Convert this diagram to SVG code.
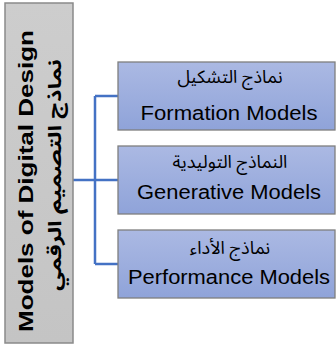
<svg xmlns="http://www.w3.org/2000/svg" width="336" height="346" viewBox="0 0 336 346">
<defs>
<linearGradient id="bg" x1="0" y1="0" x2="0" y2="1">
<stop offset="0" stop-color="#abb9e3"/>
<stop offset="1" stop-color="#8fa3d9"/>
</linearGradient>
<linearGradient id="gg" x1="0" y1="0" x2="0" y2="1">
<stop offset="0" stop-color="#cdcdcd"/>
<stop offset="1" stop-color="#c4c4c4"/>
</linearGradient>
</defs>
<style>
.box{fill:url(#bg);stroke:#7f7f7f;stroke-width:1.3}
.root{fill:url(#gg);stroke:#8a8a8a;stroke-width:1.5}
.en{font-family:"Liberation Sans",Arial,sans-serif;font-size:20px;fill:#000;text-anchor:middle}
.ar{font-family:"Noto Sans Arabic","DejaVu Sans",sans-serif;font-size:18px;fill:#000;text-anchor:middle;direction:rtl}
.c{fill:none;stroke:#4472c4;stroke-width:2.5}
</style>
<g id="connectors">
<path class="c" d="M73 180H95M95 96V264M95 96H118M95 180H118M95 264H118"/>
</g>
<g id="root">
<rect class="root" x="5" y="3" width="68" height="340"/>
<text class="en" transform="translate(33,181) rotate(-90)" font-weight="bold" font-size="24" textLength="302" lengthAdjust="spacingAndGlyphs">Models of Digital Design</text>
<text class="ar" transform="translate(61,175) rotate(-90)" font-weight="bold" font-size="22" textLength="232" lengthAdjust="spacingAndGlyphs">نماذج التصميم الرقمي</text>
</g>
<g id="formation">
<rect class="box" x="118" y="62" width="217" height="68"/>
<text class="ar" x="230" y="83">نماذج التشكيل</text>
<text class="en" x="229" y="120" textLength="177" lengthAdjust="spacingAndGlyphs">Formation Models</text>
</g>
<g id="generative">
<rect class="box" x="118" y="146" width="217" height="68"/>
<text class="ar" x="230" y="168">النماذج التوليدية</text>
<text class="en" x="229" y="199" textLength="184" lengthAdjust="spacingAndGlyphs">Generative Models</text>
</g>
<g id="performance">
<rect class="box" x="118" y="230" width="217" height="68"/>
<text class="ar" x="230" y="254">نماذج الأداء</text>
<text class="en" x="229" y="284" textLength="202" lengthAdjust="spacingAndGlyphs">Performance Models</text>
</g>
</svg>
